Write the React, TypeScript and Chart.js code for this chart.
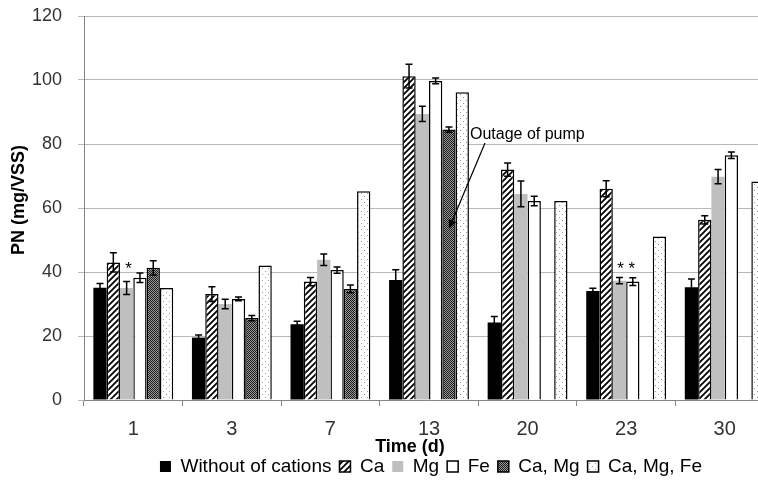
import React, { useEffect, useRef } from 'react';
import { Chart, registerables } from 'chart.js';

Chart.register(...registerables);

// ---------- data ----------
const categories = ['1', '3', '7', '13', '20', '23', '30'];
const seriesNames = ['Without of cations', 'Ca', 'Mg', 'Fe', 'Ca, Mg', 'Ca, Mg, Fe'];

const withoutCations = [35.1, 19.5, 23.7, 37.5, 24.2, 34.1, 35.2];
const withoutCationsErr = [1.3, 0.8, 0.9, 3.2, 1.9, 0.8, 2.6];
const caValues = [43.0, 33.1, 37.0, 101.2, 72.0, 66.0, 56.3];
const caErr = [3.0, 2.3, 1.3, 3.7, 2.1, 2.5, 1.3];
const mgValues = [35.0, 30.0, 43.8, 89.4, 64.4, 37.3, 69.8];
const mgErr = [2.0, 1.5, 1.8, 2.4, 4.0, 1.0, 2.2];
const feValues = [38.2, 31.6, 40.6, 99.7, 62.2, 37.0, 76.5];
const feErr = [1.5, 0.6, 1.0, 0.9, 1.5, 1.2, 1.0];
const caMgValues = [41.3, 25.6, 34.7, 84.5, null, null, null];
const caMgErr = [2.2, 0.8, 1.2, 0.8, null, null, null];
const caMgFeValues = [35.0, 42.0, 65.2, 96.2, 62.2, 51.1, 68.3];

const yMin = 0;
const yMax = 120;
const yStep = 20;

const yTitle = 'PN (mg/VSS)';
const xTitle = 'Time (d)';
const outageLabel = 'Outage of pump';

const FONT = "'Liberation Sans', Arial, sans-serif";

function makePattern(size: number, draw: (g: CanvasRenderingContext2D, s: number) => void) {
  const c = document.createElement('canvas');
  c.width = size;
  c.height = size;
  const g = c.getContext('2d')!;
  draw(g, size);
  return g.createPattern(c, 'repeat')!;
}

const zeroPad = (s: any) => {
  s.paddingTop = 0;
  s.paddingBottom = 0;
  s.paddingLeft = 0;
  s.paddingRight = 0;
};

export default function App() {
  const ref = useRef<HTMLCanvasElement>(null);

  useEffect(() => {
    const canvas = ref.current!;

    const hatch = makePattern(6, (g, s) => {
      g.fillStyle = '#ffffff';
      g.fillRect(0, 0, s, s);
      g.strokeStyle = '#000000';
      g.lineWidth = 1.8;
      g.beginPath();
      g.moveTo(-1, s + 1);
      g.lineTo(s + 1, -1);
      g.moveTo(-s / 2 - 1, s / 2 + 1);
      g.lineTo(s / 2 + 1, -s / 2 - 1);
      g.moveTo(s / 2 - 1, s * 1.5 + 1);
      g.lineTo(s * 1.5 + 1, s / 2 - 1);
      g.stroke();
    });

    const checker = makePattern(2, (g) => {
      g.fillStyle = '#9a9a9a';
      g.fillRect(0, 0, 2, 2);
      g.fillStyle = '#1a1a1a';
      g.fillRect(0, 0, 1, 1);
      g.fillRect(1, 1, 1, 1);
    });

    const dots = makePattern(6, (g, s) => {
      g.fillStyle = '#ffffff';
      g.fillRect(0, 0, s, s);
      g.fillStyle = '#9a9a9a';
      g.fillRect(1, 1, 1, 1);
      g.fillRect(4, 4, 1, 1);
    });

    const errors = [withoutCationsErr, caErr, mgErr, feErr, caMgErr, null];

    const errorBarPlugin = {
      id: 'errorBars',
      afterDatasetsDraw(chart: any) {
        const ctx = chart.ctx;
        const y = chart.scales.y;
        chart.data.datasets.forEach((ds: any, i: number) => {
          const errs = errors[i];
          if (!errs) return;
          const meta = chart.getDatasetMeta(i);
          meta.data.forEach((bar: any, j: number) => {
            const v = ds.data[j];
            const e = errs[j];
            if (v == null || e == null) return;
            const x = bar.x;
            const t = y.getPixelForValue(v + e);
            const b = y.getPixelForValue(v - e);
            ctx.save();
            ctx.strokeStyle = '#000';
            ctx.lineWidth = 1.5;
            ctx.beginPath();
            ctx.moveTo(x, t);
            ctx.lineTo(x, b);
            ctx.moveTo(x - 3.5, t);
            ctx.lineTo(x + 3.5, t);
            ctx.moveTo(x - 3.5, b);
            ctx.lineTo(x + 3.5, b);
            ctx.stroke();
            ctx.restore();
          });
        });
      },
    };

    const annotationPlugin = {
      id: 'annotations',
      afterDraw(chart: any) {
        const ctx = chart.ctx;
        const x = chart.scales.x;
        const y = chart.scales.y;
        const area = chart.chartArea;
        ctx.save();
        // asterisks
        ctx.fillStyle = '#000';
        ctx.font = `17px ${FONT}`;
        ctx.textAlign = 'center';
        ctx.textBaseline = 'middle';
        const mgMeta = chart.getDatasetMeta(2);
        const feMeta = chart.getDatasetMeta(3);
        const starY = y.getPixelForValue(42) + 4;
        ctx.fillText('*', mgMeta.data[0].x + 2, starY);
        ctx.fillText('*', mgMeta.data[5].x + 1, starY);
        ctx.fillText('*', feMeta.data[5].x - 1, starY);

        // outage of pump annotation
        const caMgMeta = chart.getDatasetMeta(4);
        const endX = caMgMeta.data[3].x;
        const endY = y.getPixelForValue(53.5);
        const cx = x.getPixelForValue(3);
        const startX = cx + 56;
        const startY = y.getPixelForValue(80.3);
        ctx.font = `16px ${FONT}`;
        ctx.textAlign = 'left';
        ctx.textBaseline = 'alphabetic';
        ctx.fillText(outageLabel, cx + 41, y.getPixelForValue(81.6));
        ctx.strokeStyle = '#000';
        ctx.lineWidth = 1.2;
        const ang = Math.atan2(endY - startY, endX - startX);
        const headLen = 9;
        const bx = endX - headLen * Math.cos(ang);
        const by = endY - headLen * Math.sin(ang);
        ctx.beginPath();
        ctx.moveTo(startX, startY);
        ctx.lineTo(bx, by);
        ctx.stroke();
        ctx.beginPath();
        ctx.moveTo(endX, endY);
        ctx.lineTo(bx + 4 * Math.sin(ang), by - 4 * Math.cos(ang));
        ctx.lineTo(bx - 4 * Math.sin(ang), by + 4 * Math.cos(ang));
        ctx.closePath();
        ctx.fill();

        // axis titles
        ctx.font = `bold 18px ${FONT}`;
        ctx.textAlign = 'center';
        ctx.textBaseline = 'middle';
        ctx.fillText(xTitle, 410, area.bottom + 47);
        ctx.translate(19, 200);
        ctx.rotate(-Math.PI / 2);
        ctx.fillText(yTitle, 0, 0);
        ctx.restore();
      },
    };

    const chart = new Chart(canvas, {
      type: 'bar',
      data: {
        labels: categories,
        datasets: [
          { label: seriesNames[0], data: withoutCations, backgroundColor: '#000000', borderColor: '#000000', borderWidth: 0 },
          { label: seriesNames[1], data: caValues, backgroundColor: hatch, borderColor: '#000000', borderWidth: 1.5 },
          { label: seriesNames[2], data: mgValues, backgroundColor: '#bfbfbf', borderColor: '#bfbfbf', borderWidth: 0 },
          { label: seriesNames[3], data: feValues, backgroundColor: '#ffffff', borderColor: '#000000', borderWidth: 1.5 },
          { label: seriesNames[4], data: caMgValues, backgroundColor: checker, borderColor: '#000000', borderWidth: 1.5 },
          { label: seriesNames[5], data: caMgFeValues, backgroundColor: dots, borderColor: '#000000', borderWidth: 1.5 },
        ],
      },
      options: {
        responsive: false,
        animation: false,
        devicePixelRatio: 1,
        events: [],
        layout: { padding: { left: 30, right: 0, top: 16, bottom: 6 } },
        datasets: {
          bar: { categoryPercentage: 0.81, barPercentage: 1.0, grouped: true },
        },
        plugins: {
          tooltip: { enabled: false },
          legend: {
            position: 'bottom',
            labels: {
              font: { family: FONT, size: 19 },
              color: '#000',
              boxWidth: 11,
              boxHeight: 11,
              padding: 8,
            },
          },
        },
        scales: {
          x: {
            grid: { drawOnChartArea: false, drawTicks: true, tickLength: 6, color: '#868686', offset: true },
            border: { color: '#868686', width: 1 },
            ticks: { font: { family: FONT, size: 20 }, color: '#333', padding: 11 },
            afterFit: (s: any) => { s.height = 49; zeroPad(s); },
          },
          y: {
            min: yMin,
            max: yMax,
            ticks: { stepSize: yStep, font: { family: FONT, size: 18 }, color: '#333', padding: 16 },
            grid: { color: '#b8b8b8', tickLength: 6 },
            border: { color: '#868686', width: 1 },
            afterFit: (s: any) => { s.width = 54; zeroPad(s); },
          },
          spacer: {
            type: 'linear',
            position: 'right',
            display: true,
            ticks: { display: false },
            grid: { display: false },
            border: { display: false },
            afterFit: (s: any) => { s.width = 58; zeroPad(s); },
          },
        },
      },
      plugins: [errorBarPlugin, annotationPlugin],
    } as any);

    return () => chart.destroy();
  }, []);

  return (
    <div style={{ position: 'fixed', left: 0, top: 0, width: 758, height: 492, overflow: 'hidden', background: '#fff' }}>
      <canvas ref={ref} width={832} height={492} style={{ display: 'block', width: 832, height: 492 }} />
    </div>
  );
}
